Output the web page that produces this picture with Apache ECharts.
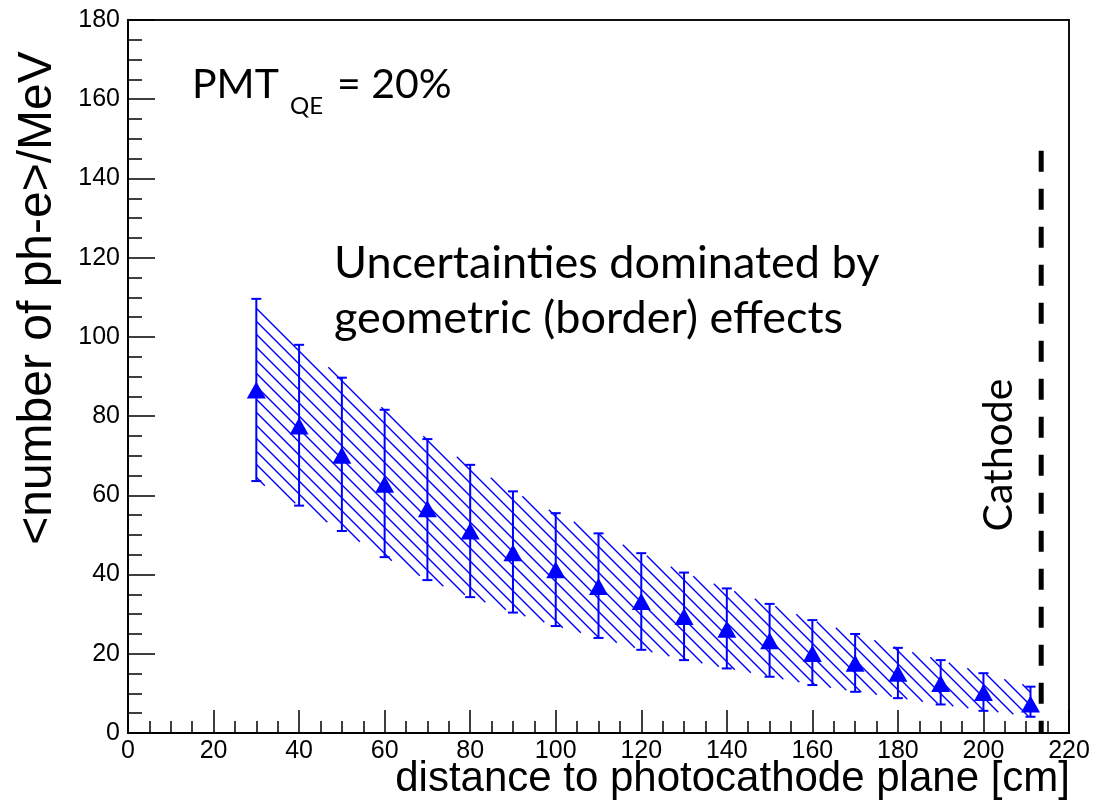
<!DOCTYPE html>
<html>
<head>
<meta charset="utf-8">
<script src="https://cdn.jsdelivr.net/npm/echarts@6/dist/echarts.min.js"></script>
<style>
  html, body { margin: 0; padding: 0; background: #fff; }
  #chart { width: 1095px; height: 805px; }
</style>
</head>
<body>
<div id="chart"></div>
<script>
// distance to photocathode plane [cm]
var distance = [30, 40, 50, 60, 70, 80, 90, 100, 110, 120, 130, 140, 150, 160, 170, 180, 190, 200, 211]
// mean number of ph-e per MeV
var phe      = [86.6, 77.5, 70.1, 62.8, 56.6, 51, 45.5, 41.2, 37, 33.2, 29.4, 26.2, 23.3, 20.1, 17.6, 15.1, 12.5, 10.2, 7.3]
// error band: upper and lower edges
var pheHigh  = [109.6, 98, 89.7, 81.6, 74.2, 67.7, 61, 55.5, 50.4, 45.4, 40.5, 36.5, 32.6, 28.5, 25, 21.5, 18.4, 15.1, 11.7]
var pheLow   = [63.6, 57.4, 51, 44.4, 38.6, 34.3, 30.4, 27, 24, 21, 18.4, 16.3, 14.2, 12.1, 10.4, 8.8, 7.2, 5.6, 4.1]
// cathode position
var cathodeX = 213.5
var cathodeTop = 147

var blue = '#0000ff'

var points = []
var bars = []
for (var i = 0; i < distance.length; i++){
    points.push([distance[i], phe[i]])
    bars.push([distance[i], pheLow[i], pheHigh[i]])
}

// edge of the band in pixels at pixel x (linear between points)
function edgeAt(pts, x){
    for (var k = 0; k < pts.length - 1; k++){
        if (x >= pts[k][0] && x <= pts[k + 1][0]){
            var t = (x - pts[k][0]) / (pts[k + 1][0] - pts[k][0])
            return pts[k][1] + t * (pts[k + 1][1] - pts[k][1])
        }
    }
    return null
}

// hatched band drawn as 45 degree lines cut to the band
function renderBand(params, api){
    var top = [], bot = []
    for (var i = 0; i < distance.length; i++){
        top.push(api.coord([distance[i], pheHigh[i]]))
        bot.push(api.coord([distance[i], pheLow[i]]))
    }
    var x0 = top[0][0], x1 = top[top.length - 1][0]
    var step = 13
    var cMin = Infinity, cMax = -Infinity
    for (var i = 0; i < top.length; i++){
        cMin = Math.min(cMin, top[i][1] - top[i][0])
        cMax = Math.max(cMax, bot[i][1] - bot[i][0])
    }
    cMin = Math.floor(cMin / step) * step
    var lines = []
    for (var c = cMin; c <= cMax; c += step){
        var start = null, last = null
        for (var x = x0; x <= x1 + 0.001; x += 0.5){
            var y = x + c
            var yt = edgeAt(top, x), yb = edgeAt(bot, x)
            var inside = yt !== null && y >= yt && y <= yb
            if (inside){
                if (start === null) start = x
                last = x
            }
            if ((!inside || x + 0.5 > x1 + 0.001) && start !== null){
                if (last > start){
                    lines.push({ type: 'line', shape: { x1: start, y1: start + c, x2: last, y2: last + c },
                                 style: { stroke: blue, lineWidth: 1.4 } })
                }
                start = null
            }
        }
    }
    return { type: 'group', children: lines }
}

var myChart = echarts.init(document.getElementById('chart'));

var labelFont = { fontFamily: 'Liberation Sans', fontSize: 25, color: '#000' }
var calibri = 'Lato'

var option = {
    animation: false,
    grid: { left: 128, right: 26, top: 20, bottom: 72, show: true, borderColor: '#111', borderWidth: 2 },
    xAxis: {
        type: 'value', min: 0, max: 220, interval: 20,
        axisLine: { show: true, lineStyle: { color: '#000', width: 2 } },
        axisTick: { inside: true, length: 23, lineStyle: { color: '#000', width: 1.5 } },
        minorTick: { show: true, splitNumber: 4, length: 12, lineStyle: { color: '#000', width: 1.5 } },
        splitLine: { show: false },
        axisLabel: Object.assign({ margin: 6 }, labelFont)
    },
    yAxis: {
        type: 'value', min: 0, max: 180, interval: 20,
        axisLine: { show: true, lineStyle: { color: '#000', width: 2 } },
        axisTick: { inside: true, length: 27, lineStyle: { color: '#000', width: 1.5 } },
        minorTick: { show: true, splitNumber: 4, length: 14, lineStyle: { color: '#000', width: 1.5 } },
        splitLine: { show: false },
        axisLabel: Object.assign({ margin: 8 }, labelFont)
    },
    series: [
        {
            type: 'custom',
            name: 'band',
            data: [[distance[0], phe[0]]],
            renderItem: renderBand,
            silent: true,
            z: 1
        },
        {
            type: 'custom',
            name: 'errors',
            data: bars,
            encode: { x: 0, y: [1, 2] },
            renderItem: function(params, api){
                var lo = api.coord([api.value(0), api.value(1)])
                var hi = api.coord([api.value(0), api.value(2)])
                var w = 5
                var st = { stroke: blue, lineWidth: 2 }
                return {
                    type: 'group',
                    children: [
                        { type: 'line', shape: { x1: lo[0], y1: lo[1], x2: hi[0], y2: hi[1] }, style: st },
                        { type: 'line', shape: { x1: lo[0] - w, y1: lo[1], x2: lo[0] + w, y2: lo[1] }, style: st },
                        { type: 'line', shape: { x1: hi[0] - w, y1: hi[1], x2: hi[0] + w, y2: hi[1] }, style: st }
                    ]
                }
            },
            z: 2
        },
        {
            type: 'scatter',
            data: points,
            symbol: 'triangle',
            symbolSize: [19, 17],
            itemStyle: { color: blue, opacity: 1 },
            z: 3
        },
        {
            type: 'line',
            data: [[cathodeX, cathodeTop], [cathodeX, 0]],
            symbol: 'none',
            lineStyle: { color: '#000', width: 5, type: [21, 17] },
            z: 4
        }
    ],
    graphic: [
        { type: 'text', left: 192, top: 64, style: { text: 'PMT', font: '41px ' + calibri, fill: '#000' } },
        { type: 'text', left: 290, top: 94, style: { text: 'QE', font: '24px ' + calibri, fill: '#000' } },
        { type: 'text', left: 337, top: 64, style: { text: '= 20%', font: '41px ' + calibri, fill: '#000' } },
        { type: 'text', left: 334, top: 241, style: { text: 'Uncertainties dominated by', font: '45px ' + calibri, fill: '#000' } },
        { type: 'text', left: 334, top: 296, style: { text: 'geometric (border) effects', font: '45px ' + calibri, fill: '#000' } },
        { type: 'text', x: 999, y: 455, rotation: Math.PI / 2,
          style: { text: 'Cathode', font: '41px ' + calibri, fill: '#000', align: 'center', verticalAlign: 'middle' } },
        { type: 'text', x: 38, y: 298, rotation: Math.PI / 2,
          style: { text: '<number of ph-e>/MeV', font: '48px Liberation Sans', fill: '#000', align: 'center', verticalAlign: 'middle' } },
        { type: 'text', x: 1070, y: 779,
          style: { text: 'distance to photocathode plane [cm]', font: '42px Liberation Sans', fill: '#000', align: 'right', verticalAlign: 'middle' } }
    ]
};

myChart.setOption(option);
</script>
</body>
</html>
